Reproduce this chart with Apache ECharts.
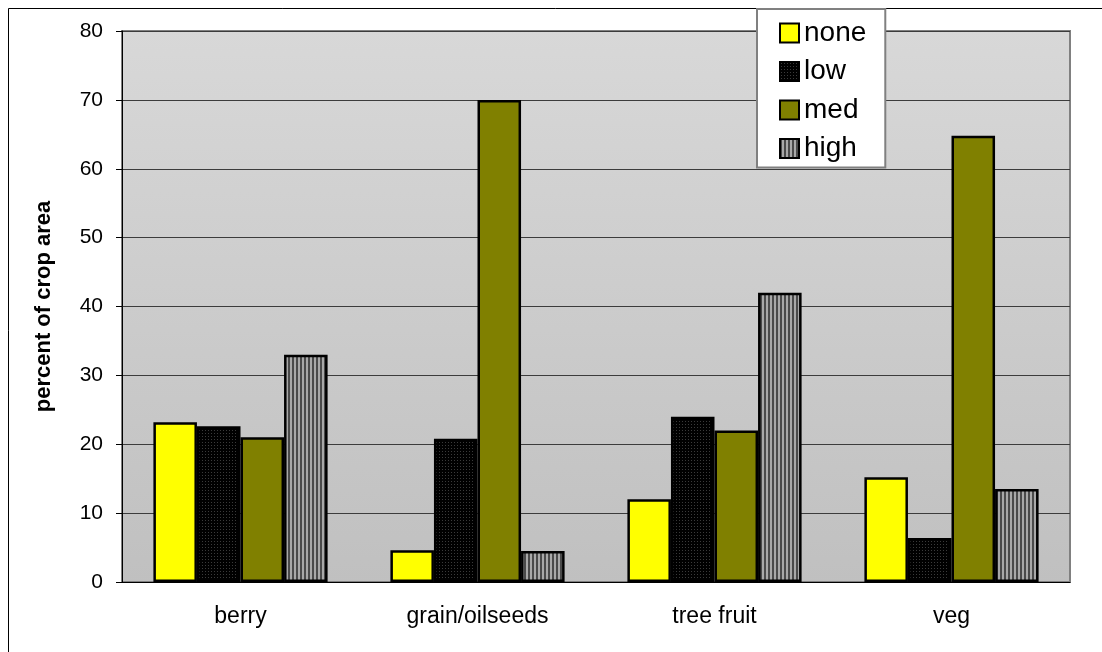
<!DOCTYPE html>
<html>
<head>
<meta charset="utf-8">
<script src="https://cdn.jsdelivr.net/npm/echarts@6/dist/echarts.min.js"></script>
<style>
  html, body { margin: 0; padding: 0; background: #ffffff; }
  #chart { width: 1102px; height: 652px; }
</style>
</head>
<body>
<div id="chart"></div>
<script>
// Crop categories and share of crop area (%) by intensity level
const categories = ['berry', 'grain/oilseeds', 'tree fruit', 'veg'];
const noneValues = [23.2, 4.6, 12.0, 15.2];
const lowValues  = [22.6, 20.8, 24.0, 6.4];
const medValues  = [21.0, 70.0, 22.0, 64.8];
const highValues = [33.0, 4.5, 42.0, 13.5];
const yTicks = { min: 0, max: 80, interval: 10 };

// Fill patterns drawn on small canvases
function dotPattern() {
  const c = document.createElement('canvas');
  c.width = 3; c.height = 3;
  const g = c.getContext('2d');
  g.fillStyle = '#000000';
  g.fillRect(0, 0, 3, 3);
  g.fillStyle = '#3a3a3a';
  g.fillRect(1, 1, 1, 1);
  return { image: c, repeat: 'repeat' };
}
function stripePattern() {
  const c = document.createElement('canvas');
  c.width = 4; c.height = 4;
  const g = c.getContext('2d');
  g.fillStyle = '#a8a8a8';
  g.fillRect(0, 0, 4, 4);
  g.fillStyle = '#4a4a4a';
  g.fillRect(0, 0, 2, 4);
  return { image: c, repeat: 'repeat' };
}

const border = { borderColor: '#000000', borderWidth: 2.5 };

const chart = echarts.init(document.getElementById('chart'), null, { renderer: 'canvas' });
chart.setOption({
  animation: false,
  backgroundColor: '#ffffff',
  textStyle: { fontFamily: 'Liberation Sans, Arial, sans-serif' },
  graphic: [{
    type: 'rect',
    shape: { x: 8.5, y: 8.5, width: 1110, height: 660 },
    style: { fill: 'none', stroke: '#000000', lineWidth: 1 },
    z: -1
  }],
  grid: {
    left: 122, right: 32, top: 31, bottom: 70,
    show: true,
    borderColor: '#808080',
    borderWidth: 2,
    backgroundColor: new echarts.graphic.LinearGradient(0, 0, 0, 1, [
      { offset: 0, color: '#d8d8d8' },
      { offset: 1, color: '#c0c0c0' }
    ])
  },
  legend: {
    orient: 'vertical',
    left: 757, top: 9,
    padding: [10, 19, 5, 22],
    backgroundColor: '#ffffff',
    borderColor: '#808080',
    borderWidth: 2,
    icon: 'rect',
    itemWidth: 19, itemHeight: 19,
    itemGap: 10.5,
    textStyle: { fontSize: 28, color: '#000000' },
    z: 10,
    data: ['none', 'low', 'med', 'high']
  },
  xAxis: {
    type: 'category',
    data: categories,
    axisLine: { lineStyle: { color: '#000000', width: 1 } },
    axisTick: { length: 8, lineStyle: { color: '#000000' } },
    axisLabel: { fontSize: 23, color: '#000000', margin: 23 }
  },
  yAxis: {
    type: 'value',
    min: yTicks.min, max: yTicks.max, interval: yTicks.interval,
    name: 'percent of crop area',
    nameLocation: 'middle',
    nameGap: 67,
    nameTextStyle: { fontSize: 22, fontWeight: 'bold', color: '#000000' },
    axisLine: { show: true, lineStyle: { color: '#000000', width: 1 } },
    axisTick: { show: true, length: 6, lineStyle: { color: '#000000' } },
    axisLabel: { fontSize: 21, color: '#000000', margin: 19 },
    splitLine: { lineStyle: { color: '#3c3c3c', width: 1 } }
  },
  series: [
    { name: 'none', type: 'bar', data: noneValues, barGap: '0%', barCategoryGap: '26.5%',
      itemStyle: Object.assign({ color: '#ffff00' }, border) },
    { name: 'low', type: 'bar', data: lowValues,
      itemStyle: Object.assign({ color: dotPattern() }, border) },
    { name: 'med', type: 'bar', data: medValues,
      itemStyle: Object.assign({ color: '#808000' }, border) },
    { name: 'high', type: 'bar', data: highValues,
      itemStyle: Object.assign({ color: stripePattern() }, border) }
  ]
});
</script>
</body>
</html>
